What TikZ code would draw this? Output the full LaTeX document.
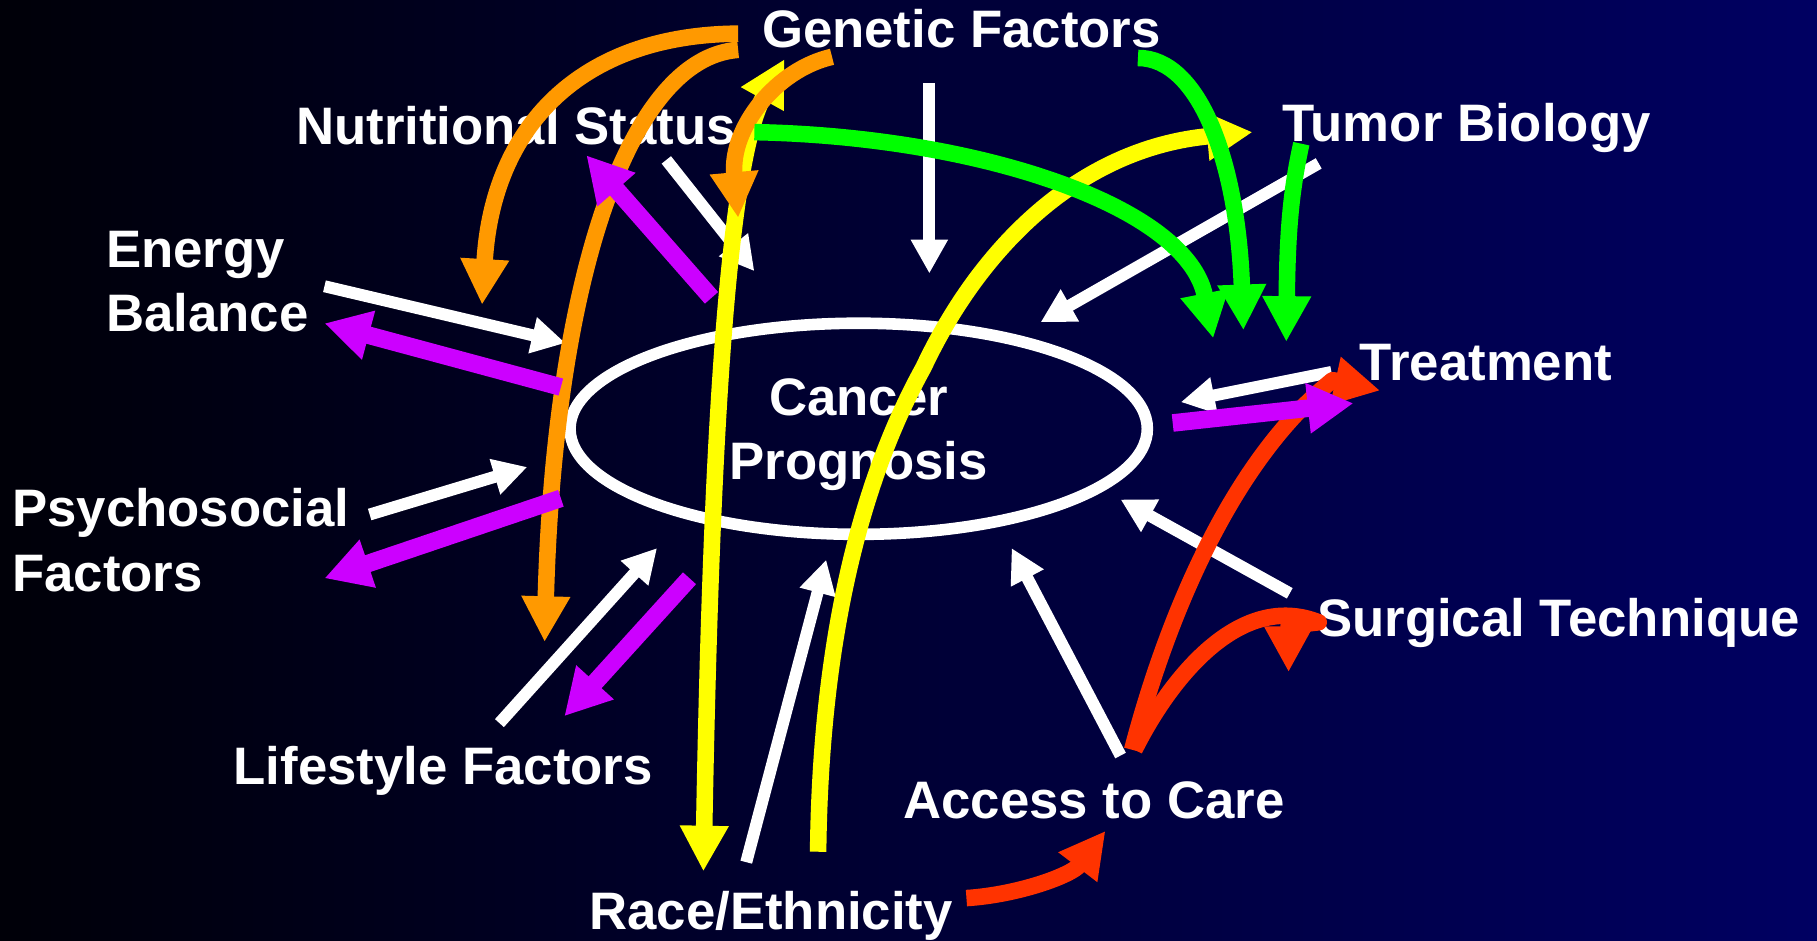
\documentclass[tikz,border=0pt]{standalone}
\usepackage{fontspec}
\setmainfont{Liberation Sans}
\usetikzlibrary{arrows.meta,shapes.geometric}

\definecolor{bgleft}{RGB}{0,0,8}
\definecolor{bgright}{RGB}{0,0,98}
\definecolor{orng}{RGB}{255,153,0}
\definecolor{yllw}{RGB}{255,255,0}
\definecolor{grn}{RGB}{0,255,0}
\definecolor{rd}{RGB}{255,51,0}
\definecolor{prpl}{RGB}{204,0,255}

\tikzset{factor/.style={text=white,inner sep=0pt,font=\bfseries\fontsize{15}{18.3}\selectfont}}
\tikzset{inlink/.style={white,line width=3.4pt,-{Triangle[length=9.6pt,width=9.9pt]}}}
\tikzset{outlink/.style={prpl,line width=5pt,-{Triangle[length=13pt,width=13.5pt]}}}
\tikzset{curvelink/.style={line width=4.7pt,line join=round,-{Triangle[length=13pt,width=13pt]}}}

\begin{document}
\begin{tikzpicture}[x=0.011588cm,y=-0.011588cm]
            % background, dark on the left, navy on the right
            \shade[left color=bgleft,right color=bgright] (0,0) rectangle (1568,812);
            \useasboundingbox (0,0) rectangle (1568,812);

            % the factors
            \node[factor,anchor=base west] (gen) at (657,41) {Genetic Factors};
            \node[factor,anchor=base west] (nutr) at (255,125) {Nutritional Status};
            \node[factor,anchor=base west] (tumor) at (1106,122) {Tumor Biology};
            \node[factor,anchor=north west,align=left] (energy) at (91,199) {Energy\\Balance};
            \node[factor,anchor=base west] (treat) at (1173,328) {Treatment};
            \node[factor,anchor=north west,align=left] (psych) at (10,421) {Psychosocial\\Factors};
            \node[factor,anchor=base west] (surg) at (1136,549) {Surgical Technique};
            \node[factor,anchor=base west] (life) at (201,677) {Lifestyle Factors};
            \node[factor,anchor=base west] (access) at (779,706) {Access to Care};
            \node[factor,anchor=base west] (race) at (508,802) {Race/Ethnicity};

            % the outcome in the middle
            \node[factor,ellipse,draw=white,line width=3.3pt,minimum width=5.77cm,
                  minimum height=2.11cm,align=center,text depth=0pt] (cp) at (741,370) {Cancer\\Prognosis};

            % arrow ends: factor -> prognosis
            \coordinate (genW) at (802,72);     \coordinate (cpGen) at (802,236);
            \coordinate (nutrW) at (575,138);   \coordinate (cpNutr) at (651,234);
            \coordinate (tumW) at (1138,141);   \coordinate (cpTum) at (898,278);
            \coordinate (enW) at (280,247);     \coordinate (cpEn) at (488,296);
            \coordinate (treatW) at (1149,321); \coordinate (cpTreat) at (1019,347);
            \coordinate (psyW) at (319,444);    \coordinate (cpPsy) at (455,403);
            \coordinate (surgW) at (1113,512);  \coordinate (cpSurg) at (967,431);
            \coordinate (lifeW) at (431,624);   \coordinate (cpLife) at (567,473);
            \coordinate (raceW) at (644,744);   \coordinate (cpRace) at (713,483);
            \coordinate (accW) at (967,652);    \coordinate (cpAcc) at (873,473);
            % arrow ends: prognosis -> factor
            \coordinate (cpNutrP) at (614,257); \coordinate (nutrP) at (506,134);
            \coordinate (cpEnP) at (484,334);   \coordinate (enP) at (280,279);
            \coordinate (cpPsyP) at (484,430);  \coordinate (psyP) at (280,499);
            \coordinate (cpLifeP) at (595,499); \coordinate (lifeP) at (487,618);
            \coordinate (cpTreatP) at (1012,365); \coordinate (treatP) at (1168,348);
            % arrow ends: factor -> factor
            \coordinate (raceY1) at (607,752);  \coordinate (genY) at (677,51);
            \coordinate (raceY2) at (706,735);  \coordinate (tumY) at (1081,114);
            \coordinate (genO1) at (637,29);    \coordinate (enO) at (416,263);
            \coordinate (genO2) at (637,43);    \coordinate (lifeO) at (470,554);
            \coordinate (genO3) at (718,49);    \coordinate (nutrO) at (637,188);
            \coordinate (nutrG) at (651,114);   \coordinate (cpG1) at (1047,292);
            \coordinate (genG) at (982,50);     \coordinate (cpG2) at (1073,285);
            \coordinate (tumG) at (1123,124);   \coordinate (cpG3) at (1110,295);
            \coordinate (raceR) at (834,775);   \coordinate (accR) at (954,717);
            \coordinate (accR2) at (977,647);   \coordinate (treatR) at (1191,337);
            \coordinate (accR3) at (979,647);   \coordinate (surgR) at (1112,580);

            % white arrows into the ellipse
            \draw[inlink] (genW) -- (cpGen);
            \draw[inlink] (nutrW) -- (cpNutr);
            \draw[inlink] (tumW) -- (cpTum);
            \draw[inlink] (enW) -- (cpEn);
            \draw[inlink] (treatW) -- (cpTreat);
            \draw[inlink] (psyW) -- (cpPsy);
            \draw[inlink] (surgW) -- (cpSurg);
            \draw[inlink] (lifeW) -- (cpLife);
            \draw[inlink] (raceW) -- (cpRace);
            \draw[inlink] (accW) -- (cpAcc);

            % yellow: race/ethnicity
            \draw[curvelink,yllw,{Triangle[length=13pt,width=13pt]}-{Triangle[length=13pt,width=13pt]}]
                (raceY1) .. controls (612,480) and (622,150) .. (genY);
            \draw[curvelink,yllw] (raceY2) .. controls (708,560) and (740,420) .. (797,317)
                .. controls (845,215) and (930,128) .. (tumY);

            % orange: genetic factors
            \draw[curvelink,orng] (genO1) .. controls (500,30) and (425,110) .. (enO);
            \draw[curvelink,orng] (genO2) .. controls (540,50) and (478,250) .. (lifeO);
            \draw[curvelink,orng] (genO3) .. controls (670,60) and (630,110) .. (nutrO);

            % green
            \draw[curvelink,grn] (nutrG) .. controls (850,118) and (1025,180) .. (cpG1);
            \draw[curvelink,grn] (genG) .. controls (1035,50) and (1068,140) .. (cpG2);
            \draw[curvelink,grn] (tumG) .. controls (1114,165) and (1111,200) .. (cpG3);

            % red: access to care
            \draw[curvelink,rd] (raceR) .. controls (880,772) and (925,755) .. (accR);
            \draw[curvelink,rd] (accR2) .. controls (1005,540) and (1060,400) .. (1150,328) -- (treatR);
            \draw[curvelink,rd] (accR3) .. controls (1010,585) and (1070,510) .. (1138,537)
                -- (1112,540) -- (surgR);

            % purple arrows out of the ellipse
            \draw[outlink] (cpNutrP) -- (nutrP);
            \draw[outlink] (cpEnP) -- (enP);
            \draw[outlink] (cpPsyP) -- (psyP);
            \draw[outlink] (cpLifeP) -- (lifeP);
            \draw[outlink] (cpTreatP) -- (treatP);
\end{tikzpicture}
\end{document}
